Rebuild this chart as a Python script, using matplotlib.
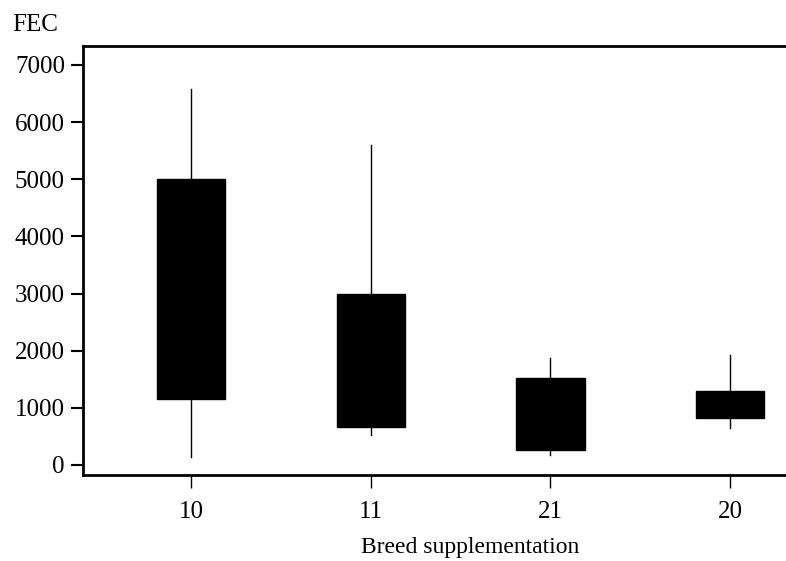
import matplotlib.pyplot as plt

# groups and box-plot summary values
groups = ['10', '11', '21', '20']
whisker_low = [140, 525, 175, 650]
q1 = [1160, 665, 260, 820]
q3 = [5000, 3000, 1520, 1300]
whisker_high = [6570, 5590, 1870, 1925]

plt.rcParams['font.family'] = ['Liberation Serif', 'DejaVu Serif']

fig = plt.figure(figsize=(7.86, 5.61), dpi=100)
ax = fig.add_axes([83/786, (561-475)/561, 1 - 83/786, (475-46)/561])

stats = []
for g, lo, a, b, hi in zip(groups, whisker_low, q1, q3, whisker_high):
    stats.append({'label': g, 'whislo': lo, 'q1': a, 'med': (a + b) / 2,
                  'q3': b, 'whishi': hi, 'fliers': []})

ax.bxp(stats, positions=range(len(groups)), widths=0.38, patch_artist=True,
       showcaps=False,
       boxprops=dict(facecolor='black', edgecolor='black', linewidth=1),
       medianprops=dict(color='black', linewidth=0),
       whiskerprops=dict(color='black', linewidth=1))

ax.set_xlim(-0.6, 3.31)
ax.set_ylim(-175, 7330)
ax.set_yticks(range(0, 7001, 1000))
ax.set_xticks(range(len(groups)))
ax.set_xticklabels(groups)

for s in ['left', 'bottom', 'top']:
    ax.spines[s].set_linewidth(2)
ax.spines['right'].set_visible(False)
ax.tick_params(direction='out', length=9, width=1.5, labelsize=18, pad=4)
ax.tick_params(axis='x', width=1, pad=10)

fig.text(12/786, 1 - 25/561, 'FEC', fontsize=18, va='center', ha='left')
ax.set_xlabel('Breed supplementation', fontsize=17)
ax.xaxis.set_label_coords(0.55, -0.145)

plt.savefig('out.png', dpi=100)
